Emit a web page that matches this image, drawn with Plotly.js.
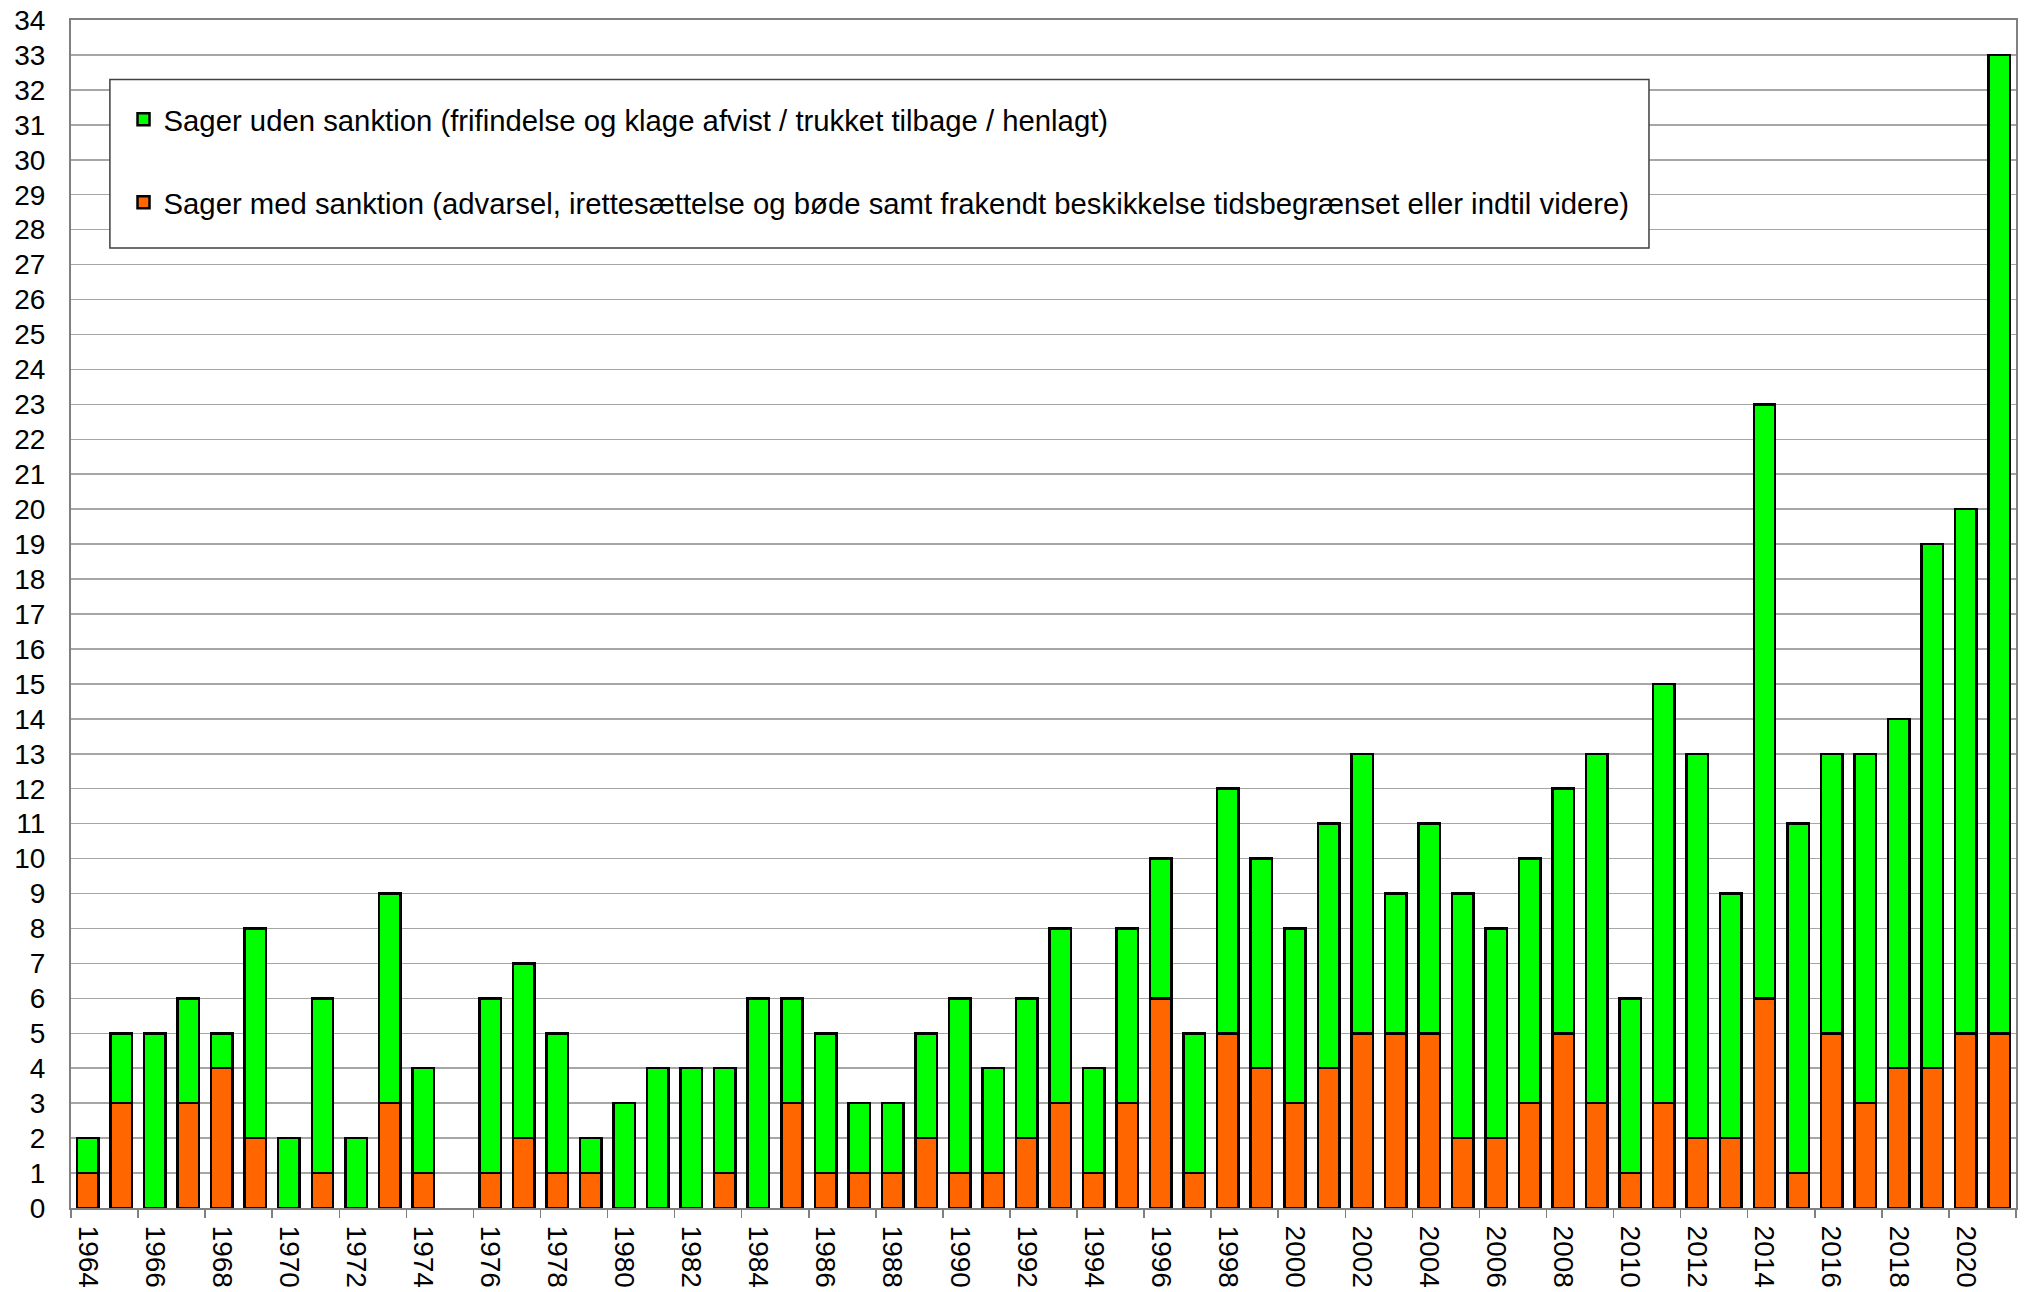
<!DOCTYPE html>
<html>
<head>
<meta charset="utf-8">
<script src="https://cdn.plot.ly/plotly-3.0.1.min.js"></script>
<style>html,body{margin:0;padding:0;background:#fff}#chart{width:2038px;height:1292px}</style>
</head>
<body>
<div id="chart"></div>
<script>
const years = ["1964","1965","1966","1967","1968","1969","1970","1971","1972","1973","1974","1975","1976","1977","1978","1979","1980","1981","1982","1983","1984","1985","1986","1987","1988","1989","1990","1991","1992","1993","1994","1995","1996","1997","1998","1999","2000","2001","2002","2003","2004","2005","2006","2007","2008","2009","2010","2011","2012","2013","2014","2015","2016","2017","2018","2019","2020","2021"];
const medSanktion = [1,3,0,3,4,2,0,1,0,3,1,null,1,2,1,1,0,0,0,1,0,3,1,1,1,2,1,1,2,3,1,3,6,1,5,4,3,4,5,5,5,2,2,3,5,3,1,3,2,2,6,1,5,3,4,4,5,5];
const udenSanktion = [1,2,5,3,1,6,2,5,2,6,3,null,5,5,4,1,3,4,4,3,6,3,4,2,2,3,5,3,4,5,3,5,4,4,7,6,5,7,8,4,6,7,6,7,7,10,5,12,11,7,17,10,8,10,10,15,15,28];
const nameMed = "Sager med sanktion (advarsel, irettesættelse og bøde samt frakendt beskikkelse tidsbegrænset eller indtil videre)";
const nameUden = "Sager uden sanktion (frifindelse og klage afvist / trukket tilbage / henlagt)";

const font = "Liberation Sans, Arial, sans-serif";
const traces = [
  {type:'bar', x:years, y:medSanktion, name:nameMed, legendgroup:'a', legendrank:2,
   marker:{color:'#FF6600', line:{color:'#000', width:2.5}}},
  {type:'bar', x:years, y:udenSanktion, name:nameUden, legendgroup:'b', legendrank:1,
   marker:{color:'#00FF00', line:{color:'#000', width:2.5}}}
];
const layout = {
  width:2038, height:1292,
  margin:{l:71, r:22, t:20, b:84},
  barmode:'stack', bargap:0.36,
  paper_bgcolor:'#fff', plot_bgcolor:'#fff',
  font:{family:font, color:'#000', size:28},
  showlegend:true,
  shapes:[{type:'rect', xref:'paper', yref:'paper', x0:0.0200, x1:0.8113, y0:0.808, y1:0.950,
    fillcolor:'#fff', line:{color:'#404040', width:1.5}, layer:'above'}],
  legend:{x:0.027, y:0.938, xanchor:'left', yanchor:'top',
    bgcolor:'rgba(0,0,0,0)', borderwidth:0,
    font:{family:font, size:29.3, color:'#000'},
    traceorder:'grouped', tracegroupgap:42},
  xaxis:{type:'category', tickangle:90, dtick:2, tickson:'boundaries',
    ticks:'outside', ticklen:8, tickwidth:1.5, tickcolor:'#808080',
    ticklabelstandoff:10,
    showline:true, mirror:true, linecolor:'#808080', linewidth:2,
    showgrid:false, tickfont:{size:28, family:font}},
  yaxis:{range:[0,34], dtick:1, tick0:0, showgrid:true, gridcolor:'#a6a6a6', gridwidth:1.5,
    showline:true, mirror:true, linecolor:'#808080', linewidth:2,
    ticks:'', zeroline:false, ticklabelstandoff:18, tickfont:{size:28, family:font}, fixedrange:true}
};
Plotly.newPlot('chart', traces, layout, {displayModeBar:false, staticPlot:true});
</script>
</body>
</html>
